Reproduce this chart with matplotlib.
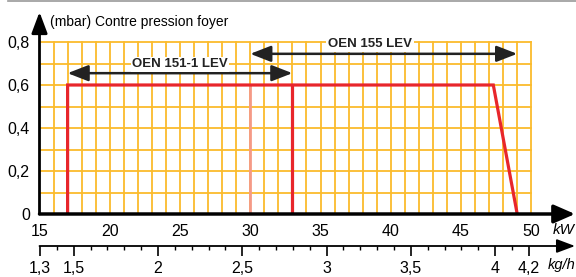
import matplotlib.pyplot as plt
import numpy as np

# data
kw_ticks = [15, 20, 25, 30, 35, 40, 45, 50]
kw_grid = list(range(16, 51))
y_ticks = [0, 0.2, 0.4, 0.6, 0.8]
y_labels = ["0", "0,2", "0,4", "0,6", "0,8"]
y_grid = [0.1, 0.2, 0.3, 0.4, 0.5, 0.6, 0.7, 0.8]
kg_major = [1.3, 1.5, 2, 2.5, 3, 3.5, 4, 4.2]
kg_labels = ["1,3", "1,5", "2", "2,5", "3", "3,5", "4", "4,2"]
kg_minor = [1.4, 1.6, 1.7, 1.8, 1.9, 2.1, 2.2, 2.3, 2.4, 2.6, 2.7, 2.8, 2.9,
            3.1, 3.2, 3.3, 3.4, 3.6, 3.7, 3.8, 3.9, 4.1]

# working range curve (kW, mbar)
curve_kw = [17, 17, 47.3, 49]
curve_p = [0, 0.6, 0.6, 0]
limit_151 = 33   # OEN 151-1 LEV upper limit
limit_155 = 30   # OEN 155 LEV lower limit
range_151 = (17, 33)
range_155 = (30, 49)

grid_c = "#fbbb2c"
red = "#e8262b"
plt.rcParams["font.family"] = ["Liberation Sans", "DejaVu Sans"]

W, H = 576, 277
fig = plt.figure(figsize=(W / 100, H / 100), dpi=100)

# thin grey border line at the very top
fig.add_artist(plt.Line2D([8 / W, 1], [1 - 0.8 / H, 1 - 0.8 / H],
                          color="#999999", lw=1.2))

x0, x1 = 39.5, 575
y0, ytop = 214, 12
ax = fig.add_axes([x0 / W, (H - y0) / H, (x1 - x0) / W, (y0 - ytop) / H])
px_kw = 14.05
ax.set_xlim(15, 15 + (x1 - x0) / px_kw)
ax.set_ylim(0, (y0 - ytop) * 0.2 / 43)
for s in ax.spines.values():
    s.set_visible(False)

# grid
for g in kw_grid:
    ax.plot([g, g], [0, 0.8], color=grid_c, lw=1.3, zorder=1)
for g in y_grid:
    ax.plot([15, 50], [g, g], color=grid_c, lw=1.3, zorder=1)

# curves
ax.plot(curve_kw, curve_p, color=red, lw=2.3, zorder=3, solid_joinstyle="miter")
ax.plot([limit_151, limit_151], [0, 0.6], color=red, lw=2.3, zorder=3)
ax.plot([limit_155, limit_155], [0, 0.6], color="#f59a86", lw=2.0, zorder=2)

# range arrows
arr = dict(arrowstyle="<|-|>,head_length=0.9,head_width=0.35", color="#222222",
           lw=1.8, mutation_scale=14, shrinkA=0, shrinkB=0)
ax.annotate("", xy=(range_151[0], 0.655), xytext=(range_151[1], 0.655),
            arrowprops=arr, zorder=4)
ax.annotate("", xy=(range_155[0], 0.745), xytext=(range_155[1], 0.745),
            arrowprops=arr, zorder=4)
ax.text(25, 0.697, "OEN 151-1 LEV", ha="center", va="center", fontsize=9.5,
        fontweight="bold", color="#222222", zorder=5,
        bbox=dict(facecolor="white", edgecolor="none", pad=1.0))
ax.text(38.5, 0.79, "OEN 155 LEV", ha="center", va="center", fontsize=9.5,
        fontweight="bold", color="#222222", zorder=5,
        bbox=dict(facecolor="white", edgecolor="none", pad=1.5))

# axes with arrows
ax.annotate("", xy=(1, 0), xytext=(0, 0), xycoords="axes fraction",
            arrowprops=dict(arrowstyle="-|>,head_length=0.8,head_width=0.35",
                            color="k", lw=2.5, mutation_scale=16,
                            shrinkA=0, shrinkB=0),
            annotation_clip=False, zorder=6)
ax.annotate("", xy=(0, 1), xytext=(0, 0), xycoords="axes fraction",
            arrowprops=dict(arrowstyle="-|>,head_length=0.8,head_width=0.3",
                            color="k", lw=2.0, mutation_scale=16,
                            shrinkA=0, shrinkB=0),
            annotation_clip=False, zorder=6)

ax.set_xticks(kw_ticks)
ax.set_xticklabels([str(t) for t in kw_ticks])
ax.set_yticks(y_ticks)
ax.set_yticklabels(y_labels)
ax.tick_params(axis="x", length=0, pad=7, labelsize=11.5)
ax.tick_params(axis="y", length=0, pad=7, labelsize=11.5)

fig.text(50 / W, 1 - 22 / H, "(mbar) Contre pression foyer", fontsize=10,
         va="center", ha="left")
fig.text(575 / W, 1 - 230 / H, "kW", fontsize=11, style="italic",
         va="center", ha="right")
fig.text(576 / W, 1 - 265 / H, "kg/h", fontsize=10.5, style="italic",
         va="center", ha="right")

# kg/h axis
yk = 246
ax2 = fig.add_axes([x0 / W, (H - yk) / H, (x1 - x0) / W, 0.001])
px_kg = 168.6
ax2.set_xlim(1.3 - 0.5 / px_kg, 1.3 + (x1 - x0 - 0.5) / px_kg)
ax2.set_ylim(0, 1)
for s in ax2.spines.values():
    s.set_visible(False)
ax2.set_yticks([])
ax2.set_xticks(kg_major)
ax2.set_xticklabels(kg_labels)
ax2.set_xticks(kg_minor, minor=True)
ax2.tick_params(axis="x", which="major", length=7, width=1.2, pad=4,
                labelsize=11.5, direction="out")
ax2.tick_params(axis="x", which="minor", length=3, width=1.0, direction="out")
ax2.annotate("", xy=(1, 0), xytext=(0, 0), xycoords="axes fraction",
             arrowprops=dict(arrowstyle="-|>,head_length=0.8,head_width=0.3",
                             color="k", lw=1.3, mutation_scale=14,
                             shrinkA=0, shrinkB=0),
             annotation_clip=False)

fig.savefig("out.png", dpi=100)
